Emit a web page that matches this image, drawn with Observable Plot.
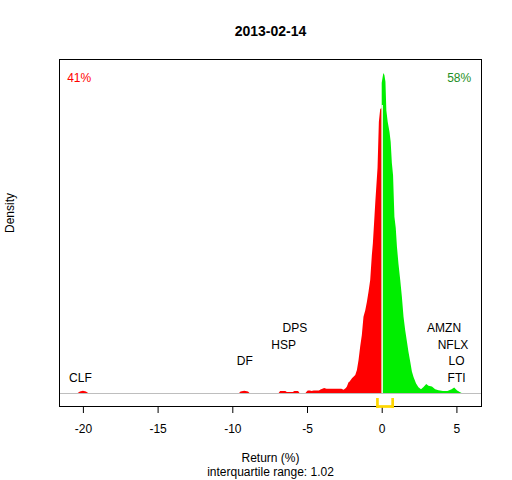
<!DOCTYPE html>
<html>
<head>
<meta charset="utf-8">
<script src="https://cdn.jsdelivr.net/npm/d3@7"></script>
<script src="https://cdn.jsdelivr.net/npm/@observablehq/plot@0.6"></script>
<style>
  html, body { margin: 0; padding: 0; background: #fff; }
</style>
</head>
<body>
<div id="chart"></div>
<script>
// ---- data ----
const title = "2013-02-14";
const pctDown = "41%";
const pctUp = "58%";
const iqrLabel = "interquartile range: 1.02";
const xTicks = [-20, -15, -10, -5, 0, 5];

// density of negative returns (x = return %, y = relative density)
const negX = [-20.35,-20.2,-20.0,-19.8,-19.65,-9.55,-9.45,-9.2,-8.95,-8.85,-6.9,-6.8,-6.45,-6.35,-5.95,-5.85,-5.6,-5.5,
  -5.1,-5.05,-4.95,-4.8,-4.7,-4.55,-4.2,-4.1,-3.85,-3.7,-2.7,-2.55,-2.4,-2.33,-2.22,-2.16,-1.99,-1.77,-1.66,-1.55,
  -1.44,-1.33,-1.22,-1.10,-0.99,-0.88,-0.77,-0.66,-0.59,-0.48,-0.42,-0.35,-0.28,-0.19,-0.10,-0.03,0];
const negY = [0,0.005,0.007,0.005,0,0,0.005,0.007,0.005,0,0,0.006,0.006,0.003,0.003,0.006,0.006,0,
  0,0.003,0.008,0.008,0.006,0.008,0.008,0.011,0.016,0.013,0.013,0.010,0.016,0.020,0.034,0.035,0.046,0.056,0.072,0.103,
  0.145,0.181,0.238,0.259,0.285,0.317,0.353,0.431,0.469,0.556,0.603,0.653,0.703,0.848,0.8875,0.89,0.89];

// density of positive returns
const posX = [0,0.05,0.11,0.18,0.25,0.31,0.40,0.52,0.60,0.68,0.76,0.85,0.94,1.02,1.12,1.24,1.35,1.46,1.57,1.69,1.79,
  1.91,2.02,2.13,2.30,2.46,2.63,2.80,2.98,3.13,3.36,3.58,3.80,4.1,4.4,4.68,4.85,5.05,5.25,5.35];
const posY = [0.97,0.984,1.0,0.994,0.973,0.884,0.848,0.817,0.785,0.719,0.681,0.551,0.516,0.457,0.405,0.353,0.301,0.238,0.197,0.160,0.129,
  0.098,0.067,0.05,0.030,0.018,0.012,0.019,0.028,0.023,0.020,0.012,0.009,0.006,0.006,0.012,0.017,0.008,0.002,0];

// labelled extreme movers
const stockNames   = ["CLF", "DF", "HSP", "DPS", "AMZN", "NFLX", "LO", "FTI"];
const stockReturns = [-20.2, -9.2, -6.6, -5.85, 4.14, 4.74, 4.98, 4.98];
const stockLevel   = [1, 2, 3, 4, 4, 3, 2, 1];

// interquartile range
const q1 = -0.32, q3 = 0.70;

// ---- build ----
const neg = negX.map((x, i) => ({x, y: negY[i]}));
const pos = posX.map((x, i) => ({x, y: posY[i]}));
const levelStep = 0.0516;
const labels = stockNames.map((name, i) => ({name, x: stockReturns[i], y: stockLevel[i] * levelStep - 0.0032}));
const peak = d3.max(posY);
const yBottom = -0.0406, bracketTop = -0.0156, bracketLow = -0.047;

const font = "'Liberation Sans', Arial, sans-serif";

const chart = Plot.plot({
  width: 512,
  height: 480,
  marginLeft: 59,
  marginRight: 31,
  marginTop: 59,
  marginBottom: 74,
  style: {fontFamily: font, fontSize: "12px", color: "black", background: "white"},
  x: {domain: [-21.6, 6.646]},
  y: {domain: [yBottom, 1.044 * peak], axis: null},
  marks: [
    Plot.areaY(neg, {x: "x", y: "y", fill: "#ff0000", curve: "linear"}),
    Plot.areaY(pos, {x: "x", y: "y", fill: "#00ee00", curve: "linear"}),
    Plot.ruleX([0], {y1: 0, y2: 0.9 * peak, stroke: "white", strokeWidth: 1.3}),
    Plot.ruleY([0], {stroke: "#bebebe", strokeWidth: 1}),
    Plot.text(labels, {x: "x", y: "y", text: "name", fontSize: 12, fill: "black"}),
    Plot.frame({stroke: "black", strokeWidth: 1}),
    Plot.axisX({ticks: xTicks, tickFormat: d => String(d), tickSize: 7, tickPadding: 11, fontSize: 12, label: null, stroke: "black"}),
    Plot.ruleY([yBottom], {x1: q1, x2: q3, stroke: "#ffd700", strokeWidth: 2.7}),
    Plot.ruleX([q1, q3], {y1: bracketLow, y2: bracketTop, stroke: "#ffd700", strokeWidth: 2.7}),
    Plot.text([title], {frameAnchor: "top", lineAnchor: "middle", dy: -27.5, fontSize: 14, fontWeight: "bold", fill: "black"}),
    Plot.text([pctDown], {frameAnchor: "top-left", lineAnchor: "middle", textAnchor: "start", dx: 7.7, dy: 18.7, fontSize: 12, fill: "#ff0000"}),
    Plot.text([pctUp], {frameAnchor: "top-right", lineAnchor: "middle", textAnchor: "end", dx: -10.3, dy: 18.7, fontSize: 12, fill: "#1f8f1f"}),
    Plot.text(["Return (%)"], {frameAnchor: "bottom", lineAnchor: "middle", dy: 51.7, fontSize: 12, fill: "black"}),
    Plot.text([iqrLabel], {frameAnchor: "bottom", lineAnchor: "middle", dy: 65.7, fontSize: 12, fill: "black"}),
    Plot.text(["Density"], {frameAnchor: "left", lineAnchor: "middle", dx: -49, rotate: -90, fontSize: 12, fill: "black"})
  ]
});
document.getElementById("chart").appendChild(chart);
</script>
</body>
</html>
